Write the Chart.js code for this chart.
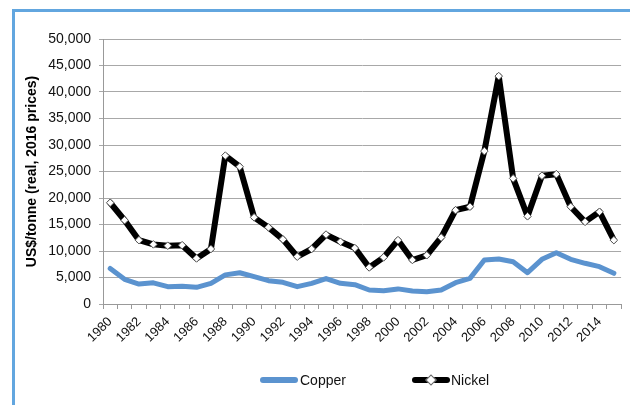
<!DOCTYPE html>
<html>
<head>
<meta charset="utf-8">
<script src="https://cdn.jsdelivr.net/npm/chart.js@4"></script>
<style>
  html, body { margin: 0; padding: 0; background: #fff; }
  #wrap { position: relative; width: 630px; height: 405px; overflow: hidden; font-family: "Liberation Sans", Arial, sans-serif; }
  #frame { position: absolute; left: 12px; top: 9px; width: 700px; height: 500px; border-left: 3px solid #62a6df; border-top: 3px solid #62a6df; }
  #chart-box { position: absolute; left: 0; top: 0; width: 630px; height: 405px; }
  .legend-item { position: absolute; top: 371px; height: 18px; font-size: 14px; line-height: 18px; color: #111; }
  .legend-bar { position: absolute; display: block; top: 6px; width: 38px; height: 6px; border-radius: 3px; }
  .legend-diamond { position: absolute; display: block; left: 15px; top: -1px; width: 6px; height: 6px; background: #fff; border: 1px solid #666; transform: rotate(45deg); }
  .legend-text { position: absolute; left: 40px; white-space: nowrap; }
</style>
</head>
<body>
<div id="wrap">
  <div id="frame"></div>
  <div id="chart-box"><canvas id="chart-prices"></canvas></div>
  <div class="legend-item" style="left:260px">
    <span class="legend-bar" style="background:#5b93cf"></span>
    <span class="legend-text">Copper</span>
  </div>
  <div class="legend-item" style="left:412px">
    <span class="legend-bar" style="background:#000"><span class="legend-diamond"></span></span>
    <span class="legend-text" style="left:39px">Nickel</span>
  </div>
</div>
<script>
  // Years on the category axis
  const years = [
    1980, 1981, 1982, 1983, 1984, 1985, 1986, 1987, 1988, 1989,
    1990, 1991, 1992, 1993, 1994, 1995, 1996, 1997, 1998, 1999,
    2000, 2001, 2002, 2003, 2004, 2005, 2006, 2007, 2008, 2009,
    2010, 2011, 2012, 2013, 2014, 2015
  ];

  // US$/tonne, real 2016 prices
  const copper = [
    6700, 4650, 3770, 4000, 3270, 3350, 3150, 3900, 5500, 5900,
    5150, 4400, 4090, 3270, 3900, 4800, 3900, 3650, 2640, 2510,
    2850, 2450, 2330, 2640, 4020, 4840, 8300, 8490, 7980, 5910,
    8430, 9680, 8430, 7680, 7040, 5790
  ];

  const nickel = [
    19100, 15800, 12050, 11250, 11000, 11100, 8600, 10380, 28000, 25900,
    16350, 14450, 12200, 8930, 10380, 13100, 11750, 10550, 6900, 8800,
    12050, 8300, 9200, 12550, 17700, 18350, 28850, 43000, 23700, 16550,
    24200, 24500, 18350, 15500, 17400, 12050
  ];

  const yTicksMax = 50000;
  const yTicksStep = 5000;

  const fontFamily = '"Liberation Sans", Arial, sans-serif';
  const padLeft = 16;

  new Chart(document.getElementById('chart-prices'), {
    type: 'line',
    data: {
      labels: years.map(String),
      datasets: [
        {
          label: 'Copper',
          data: copper,
          borderColor: '#5b93cf',
          backgroundColor: '#5b93cf',
          borderWidth: 5,
          borderJoinStyle: 'round',
          borderCapStyle: 'round',
          pointRadius: 0,
          tension: 0,
          order: 2
        },
        {
          label: 'Nickel',
          data: nickel,
          borderColor: '#000',
          backgroundColor: '#000',
          borderWidth: 6,
          borderJoinStyle: 'round',
          borderCapStyle: 'round',
          pointStyle: 'rectRot',
          pointRadius: 3.8,
          pointBackgroundColor: '#fff',
          pointBorderColor: '#555',
          pointBorderWidth: 1,
          tension: 0,
          order: 1
        }
      ]
    },
    options: {
      responsive: true,
      maintainAspectRatio: false,
      animation: false,
      layout: { padding: { left: padLeft, right: 7, top: 39, bottom: 0 } },
      plugins: {
        legend: { display: false },
        tooltip: { enabled: false }
      },
      scales: {
        x: {
          offset: true,
          afterFit(scale) { scale.height = 101; },
          grid: {
            offset: true,
            drawOnChartArea: false,
            tickLength: 5,
            color: '#999'
          },
          border: { color: '#999' },
          ticks: {
            autoSkip: false,
            maxRotation: 45,
            minRotation: 45,
            padding: 5,
            color: '#111',
            font: { family: fontFamily, size: 13 },
            callback(value, index) {
              return index % 2 === 0 ? this.getLabelForValue(value) : '';
            }
          }
        },
        y: {
          min: 0,
          max: yTicksMax,
          afterFit(scale) { scale.width = 103 - padLeft; },
          grid: { color: '#a8a8a8', tickLength: 4 },
          border: { color: '#999' },
          ticks: {
            stepSize: yTicksStep,
            padding: 8,
            color: '#111',
            font: { family: fontFamily, size: 14 },
            callback: v => v.toLocaleString('en-US')
          },
          title: {
            display: true,
            text: 'US$/tonne (real, 2016 prices)',
            color: '#000',
            padding: { top: 8, bottom: 0 },
            font: { family: fontFamily, size: 14, weight: 'bold' }
          }
        }
      }
    }
  });
</script>
</body>
</html>
